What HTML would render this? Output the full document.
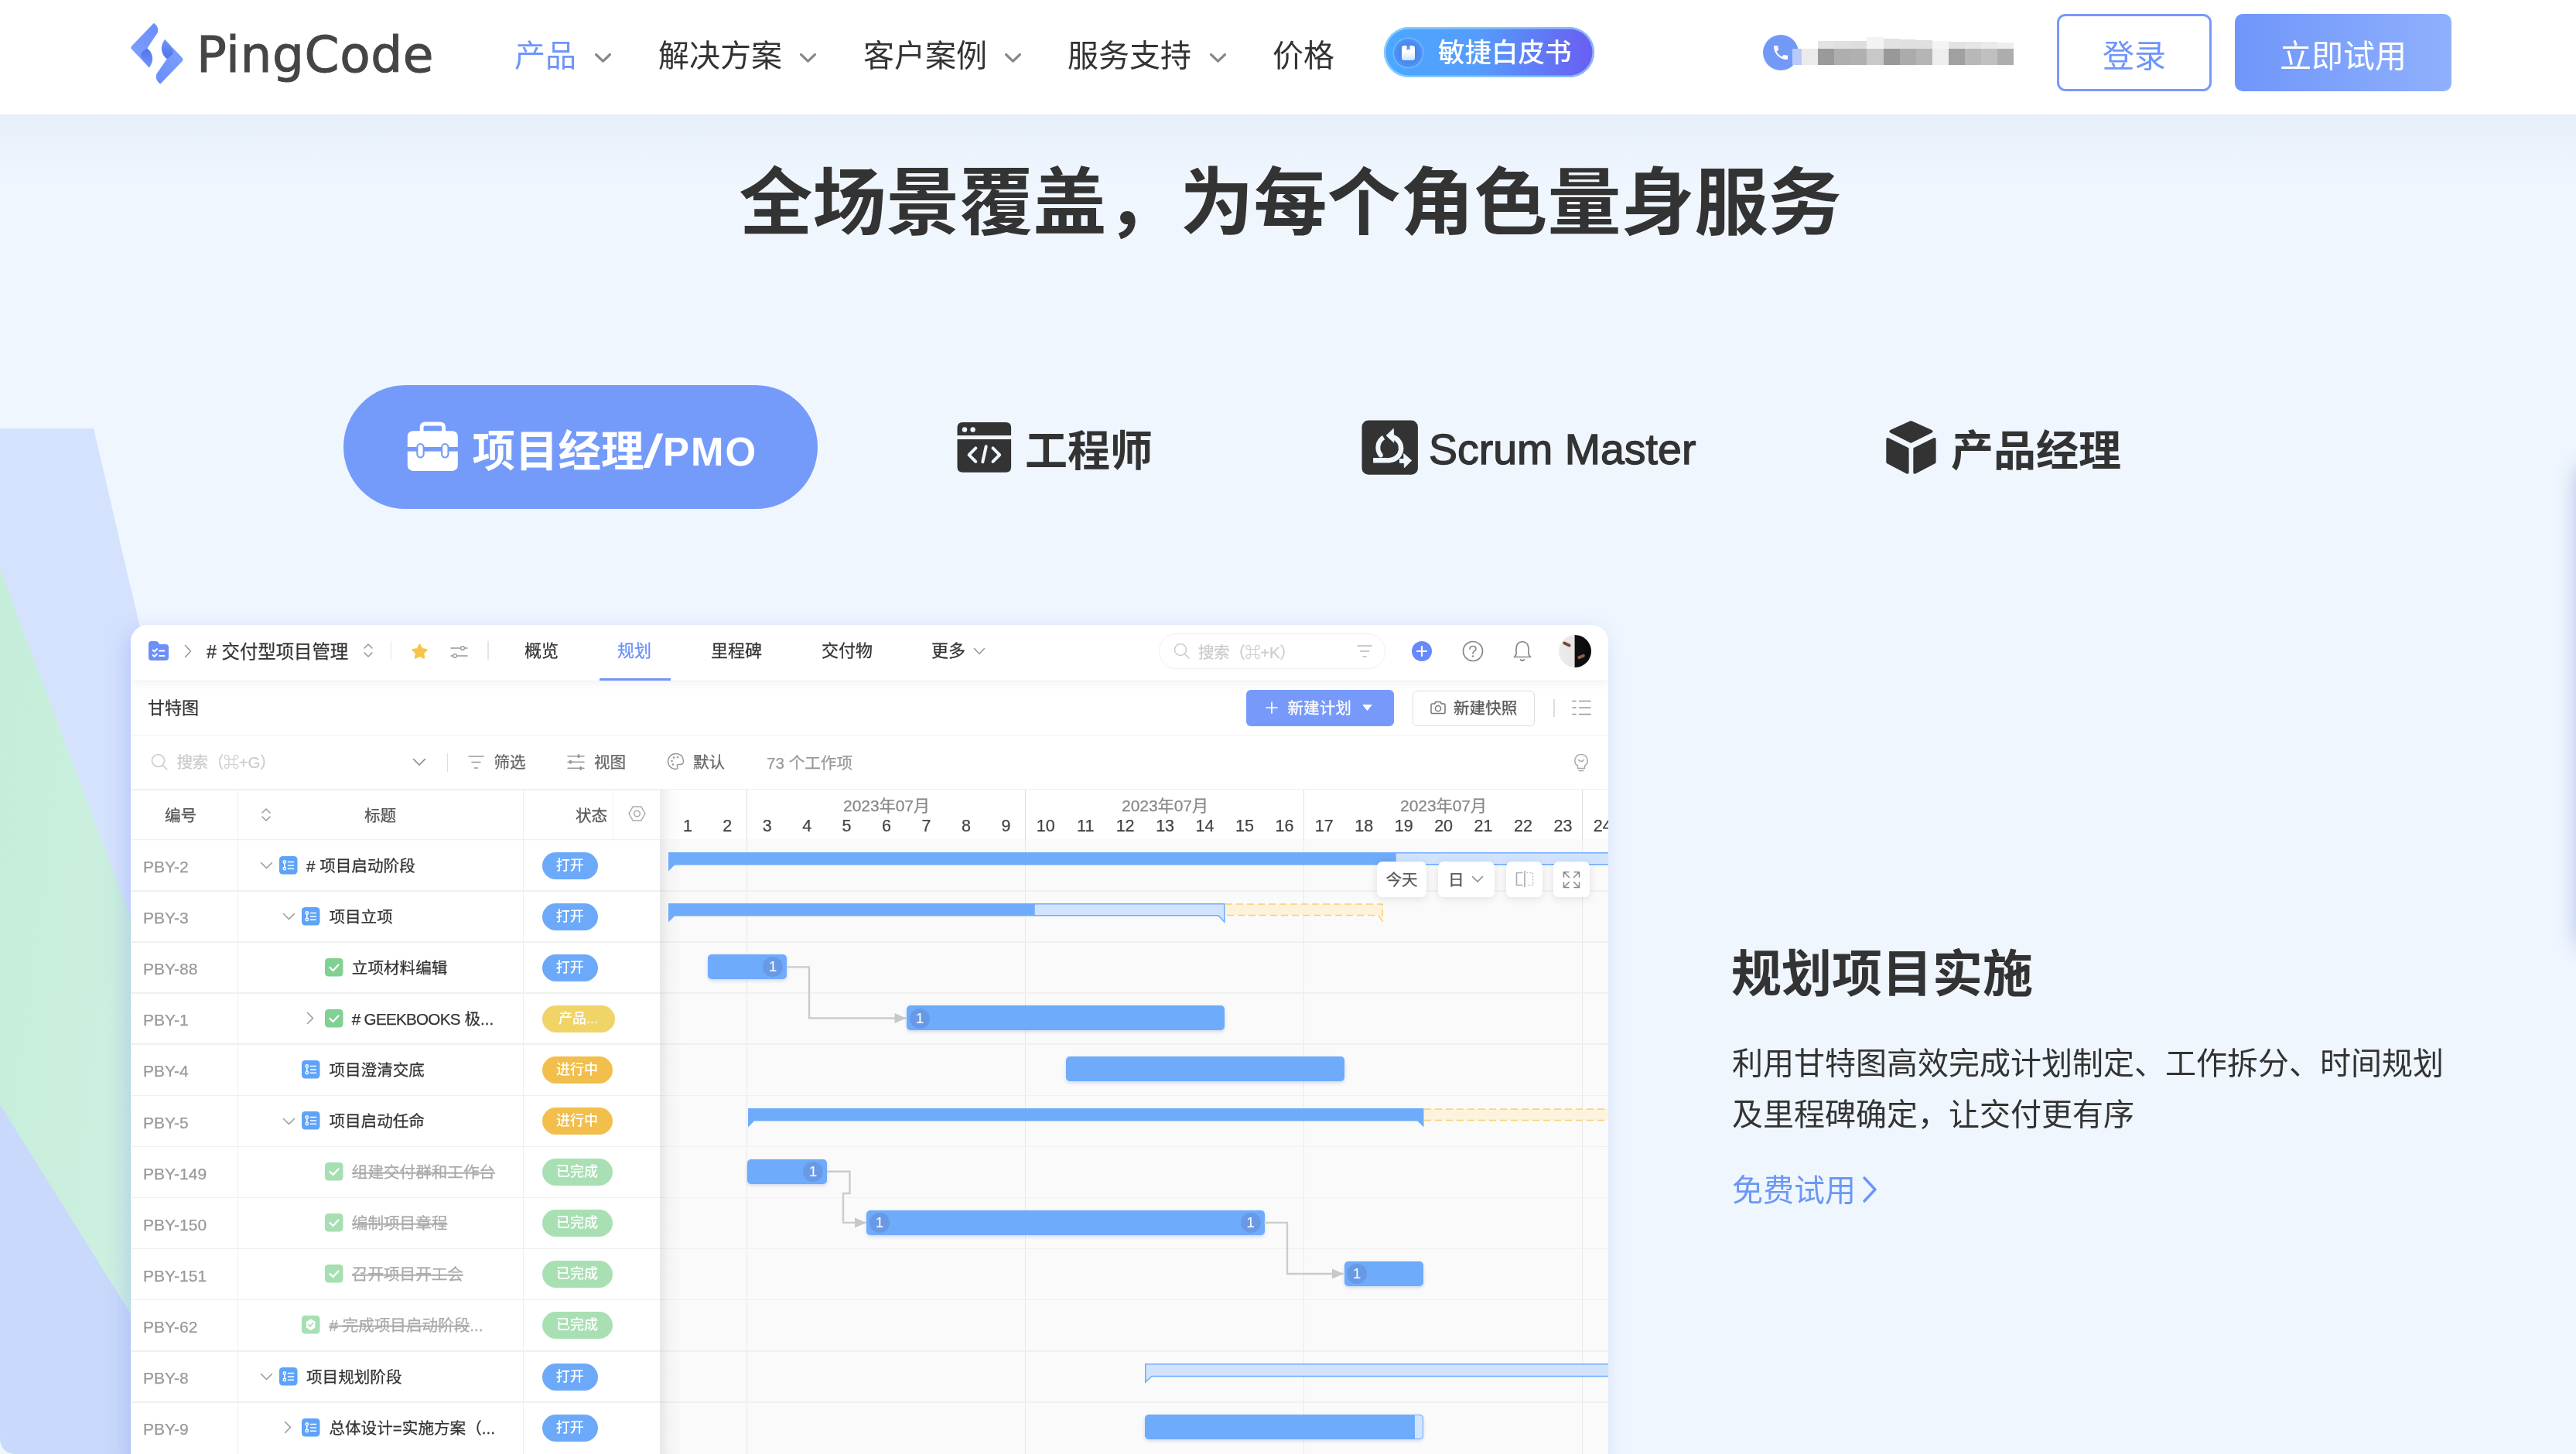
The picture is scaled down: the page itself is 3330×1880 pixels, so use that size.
<!DOCTYPE html><html lang="zh-CN"><head><meta charset="utf-8"><title>PingCode</title><style>
*{box-sizing:border-box;margin:0;padding:0}
html,body{width:3330px;height:1880px;overflow:hidden}
body{position:relative;background:#eff6fe;font-family:"Liberation Sans","Noto Sans CJK SC",sans-serif;color:#333;-webkit-font-smoothing:antialiased}
.a{position:absolute;white-space:nowrap}
.t{position:absolute;white-space:nowrap;transform:translateY(-50%);line-height:1}
.c{transform:translate(-50%,-50%)}
svg{position:absolute;overflow:visible}
#nav{position:absolute;left:0;top:0;width:3330px;height:148px;background:#fff}
#navsh{position:absolute;left:0;top:148px;width:3330px;height:90px;background:linear-gradient(#e7eff9,#eff6fe)}
.nv{font-size:40px;color:#333}
#card{position:absolute;left:169px;top:808px;width:1910px;height:1100px;background:#fff;border-radius:22px;box-shadow:-6px 8px 28px rgba(95,125,235,.26);overflow:hidden;will-change:transform}
.ct{font-size:20.6px;color:#333;-webkit-text-stroke:0.25px}
.pill{position:absolute;height:35px;border-radius:17.5px;color:#fff;font-size:18px;font-weight:500;line-height:35px;text-align:center}
.hl{position:absolute;height:1.5px;background:#f0f0f0;left:0}
.vl{position:absolute;width:1.5px;background:#efefef}
.bar{position:absolute;height:32px;border-radius:5px;background:#6eabfb;box-shadow:0 2px 4px rgba(80,120,200,.25)}
.num{position:absolute;width:26px;height:26px;border-radius:13px;background:#6799e6;color:#fff;font-size:19px;line-height:26px;text-align:center}
.fb{position:absolute;height:46px;background:#fff;border-radius:7px;box-shadow:0 2px 12px rgba(0,0,0,.11)}
</style></head><body>
<!--BG-->
<svg style="left:0;top:0" width="3330" height="1880" viewBox="0 0 3330 1880"><defs><linearGradient id="gg" x1="0" y1="0" x2="1" y2="0.4"><stop offset="0" stop-color="#c5edd9"/><stop offset="1" stop-color="#d4f2e6"/></linearGradient></defs><path d="M0 554H121L430 1880H22Q0 1880 0 1858Z" fill="#d5e2fd"/><path d="M0 735L430 1885L430 2120L0 1428Z" fill="url(#gg)"/><path d="M0 1428L282 1880H22Q0 1880 0 1858Z" fill="#c9d9fb"/></svg>
<div class="a" style="left:3332px;top:600px;width:60px;height:625px;border-radius:20px;box-shadow:0 0 28px rgba(90,110,200,.45)"></div>
<!--/BG-->
<!--NAV-->
<div style="position:absolute;left:0;top:0;width:3330px;height:1880px;will-change:transform">
<div id="navsh"></div><div id="nav"></div>
<svg style="left:169px;top:29px" width="68" height="80" viewBox="0 0 68 80"><defs><linearGradient id="lg1" x1="0.8" y1="0" x2="0.2" y2="1"><stop offset="0" stop-color="#6a8ffb"/><stop offset="1" stop-color="#7ea0fd"/></linearGradient><linearGradient id="lg2" x1="0.5" y1="0" x2="0.5" y2="1"><stop offset="0" stop-color="#4e73ec"/><stop offset="1" stop-color="#7195fb"/></linearGradient></defs><g><path d="M29.9 0.7Q36.8 6 34.8 13.3L21.2 33.4Q30.8 46 23.8 58.4L1.2 34.5Q-0.6 32.5 1.2 30.5Z" fill="url(#lg1)"/><path d="M21.2 33.4C16 37 10.5 40.5 14.2 45.8L23.8 58.4C30.8 50 29 39 21.2 33.4Z" fill="url(#lg2)"/></g><g transform="rotate(180 34 40.2)"><path d="M29.9 0.7Q36.8 6 34.8 13.3L21.2 33.4Q30.8 46 23.8 58.4L1.2 34.5Q-0.6 32.5 1.2 30.5Z" fill="url(#lg1)"/><path d="M21.2 33.4C16 37 10.5 40.5 14.2 45.8L23.8 58.4C30.8 50 29 39 21.2 33.4Z" fill="url(#lg2)"/></g></svg>
<div class="t" style="left:254px;top:70.5px;font-family:'DejaVu Sans','Liberation Sans',sans-serif;font-size:64.5px;color:#454545;letter-spacing:0.6px;-webkit-text-stroke:1px #454545">PingCode</div>
<div class="t nv" style="left:665px;top:72px;color:#6e96fb">产品</div>
<svg style="left:769px;top:69px" width="21" height="11.55" viewBox="0 0 21 11.55"><path d="M1.5 1.5L10.5 10.05L19.5 1.5" fill="none" stroke="#888" stroke-width="3.2" stroke-linecap="round" stroke-linejoin="round"/></svg>
<div class="t nv" style="left:851px;top:72px;color:#333">解决方案</div>
<svg style="left:1034px;top:69px" width="21" height="11.55" viewBox="0 0 21 11.55"><path d="M1.5 1.5L10.5 10.05L19.5 1.5" fill="none" stroke="#888" stroke-width="3.2" stroke-linecap="round" stroke-linejoin="round"/></svg>
<div class="t nv" style="left:1116px;top:72px;color:#333">客户案例</div>
<svg style="left:1299px;top:69px" width="21" height="11.55" viewBox="0 0 21 11.55"><path d="M1.5 1.5L10.5 10.05L19.5 1.5" fill="none" stroke="#888" stroke-width="3.2" stroke-linecap="round" stroke-linejoin="round"/></svg>
<div class="t nv" style="left:1380px;top:72px;color:#333">服务支持</div>
<svg style="left:1564px;top:69px" width="21" height="11.55" viewBox="0 0 21 11.55"><path d="M1.5 1.5L10.5 10.05L19.5 1.5" fill="none" stroke="#888" stroke-width="3.2" stroke-linecap="round" stroke-linejoin="round"/></svg>
<div class="t nv" style="left:1645px;top:72px;color:#333">价格</div>
<div class="a" style="left:1788.5px;top:35px;width:272px;height:65px;border-radius:33px;background:linear-gradient(90deg,#4aa8ff 0%,#559cfb 45%,#6a5df1 100%);box-shadow:inset 0 0 0 2.5px rgba(150,215,255,.75)"></div>
<div class="a" style="left:1802px;top:50px;width:37px;height:37px;border-radius:50%;background:radial-gradient(circle,#3b7ae4 0%,#4a8df2 55%,#5ea6fc 100%);box-shadow:0 0 0 1.5px rgba(255,255,255,.22)"></div>
<svg style="left:1812px;top:58px" width="17" height="21" viewBox="0 0 17 21"><defs><linearGradient id="bk" x1="0" y1="0" x2="0" y2="1"><stop offset="0.4" stop-color="#fff"/><stop offset="1" stop-color="#cfe3ff"/></linearGradient></defs><rect x="0" y="1" width="17" height="19" rx="3" fill="url(#bk)"/><path d="M6.5 1h4v6l-2-1.6L6.5 7z" fill="#5b95f3"/></svg>
<div class="t" style="left:1859px;top:68px;font-size:34.5px;color:#fff;font-weight:500">敏捷白皮书</div>
<div class="a" style="left:2279px;top:45px;width:46px;height:46px;border-radius:50%;background:#7399f8"></div>
<svg style="left:2290px;top:56px" width="24" height="24" viewBox="0 0 24 24"><path d="M6.6 10.8c1.4 2.8 3.8 5.1 6.6 6.6l2.2-2.2c.3-.3.7-.4 1-.2 1.1.4 2.3.6 3.6.6.6 0 1 .4 1 1V20c0 .6-.4 1-1 1C10.6 21 3 13.4 3 4c0-.6.4-1 1-1h3.5c.6 0 1 .4 1 1 0 1.3.2 2.5.6 3.6.1.3 0 .7-.2 1z" fill="#fff"/></svg>
<div class="a" style="left:2317px;top:63px;width:12px;height:21px;background:#b9c9fb"></div>
<div class="a" style="left:2329px;top:63px;width:21.3px;height:21.3px;background:#ebebeb"></div>
<div class="a" style="left:2350.1px;top:63px;width:21.3px;height:21.3px;background:#9a9a9a"></div>
<div class="a" style="left:2350.1px;top:53px;width:21.3px;height:10px;background:#e3e3e3"></div>
<div class="a" style="left:2371.2px;top:63px;width:21.3px;height:21.3px;background:#aeaeae"></div>
<div class="a" style="left:2371.2px;top:53px;width:21.3px;height:10px;background:#e0e0e0"></div>
<div class="a" style="left:2392.3px;top:63px;width:21.3px;height:21.3px;background:#b0b0b0"></div>
<div class="a" style="left:2392.3px;top:53px;width:21.3px;height:10px;background:#dedede"></div>
<div class="a" style="left:2413.4px;top:63px;width:21.3px;height:21.3px;background:#c8c8c8"></div>
<div class="a" style="left:2413.4px;top:48px;width:21.3px;height:15px;background:#f3f3f3"></div>
<div class="a" style="left:2434.5px;top:63px;width:21.3px;height:21.3px;background:#989898"></div>
<div class="a" style="left:2434.5px;top:50px;width:21.3px;height:13px;background:#e2e2e2"></div>
<div class="a" style="left:2455.6px;top:63px;width:21.3px;height:21.3px;background:#ababab"></div>
<div class="a" style="left:2455.6px;top:51px;width:21.3px;height:12px;background:#e0e0e0"></div>
<div class="a" style="left:2476.7px;top:63px;width:21.3px;height:21.3px;background:#b5b5b5"></div>
<div class="a" style="left:2476.7px;top:52px;width:21.3px;height:11px;background:#e0e0e0"></div>
<div class="a" style="left:2497.8px;top:63px;width:21.3px;height:21.3px;background:#eeeeee"></div>
<div class="a" style="left:2497.8px;top:53px;width:21.3px;height:10px;background:#f4f4f4"></div>
<div class="a" style="left:2518.9px;top:63px;width:21.3px;height:21.3px;background:#a0a0a0"></div>
<div class="a" style="left:2518.9px;top:54px;width:21.3px;height:9px;background:#e2e2e2"></div>
<div class="a" style="left:2540px;top:63px;width:21.3px;height:21.3px;background:#b8b8b8"></div>
<div class="a" style="left:2540px;top:54px;width:21.3px;height:9px;background:#e6e6e6"></div>
<div class="a" style="left:2561.1px;top:63px;width:21.3px;height:21.3px;background:#c0c0c0"></div>
<div class="a" style="left:2561.1px;top:54px;width:21.3px;height:9px;background:#eaeaea"></div>
<div class="a" style="left:2582.2px;top:63px;width:21.3px;height:21.3px;background:#adadad"></div>
<div class="a" style="left:2582.2px;top:55px;width:21.3px;height:8px;background:#eeeeee"></div>
<div class="a" style="left:2659px;top:18px;width:200px;height:100px;border:3px solid #7699fa;border-radius:11px;background:#fff"></div>
<div class="t c nv" style="left:2759px;top:73px;font-size:41px;color:#6e95fb">登录</div>
<div class="a" style="left:2889px;top:18px;width:280px;height:100px;border-radius:10px;background:linear-gradient(90deg,#6f96fa,#8fb0fd)"></div>
<div class="t c nv" style="left:3029px;top:73px;font-size:41px;color:#fff">立即试用</div>
<!--/NAV-->
<!--HEAD-->
<div class="t c" style="left:1668px;top:263px;font-size:95px;font-weight:700;color:#333">全场景覆盖，为每个角色量身服务</div>
<!--/HEAD-->
<!--TABS-->
<div class="a" style="left:444px;top:498px;width:613px;height:160px;border-radius:80px;background:#749bfa"></div>
<div class="t" style="left:610.5px;top:583px;font-size:55.5px;font-weight:700;color:#fff">项目经理<span style="display:inline-block;font-weight:400;font-size:59px;transform:scaleX(1.5);margin:0 5px 0 3px;-webkit-text-stroke:0.8px #fff;position:relative;top:1px">/</span><span style="font-weight:700;font-size:51px;letter-spacing:2px;position:relative;top:-1.5px">PMO</span></div>
<div class="t" style="left:1325px;top:583px;font-size:55px;font-weight:700;color:#333">工程师</div>
<div class="t" style="left:1847px;top:582px;font-size:55.5px;color:#333;-webkit-text-stroke:1.3px #333">Scrum Master</div>
<div class="t" style="left:2522px;top:583px;font-size:55px;font-weight:700;color:#333">产品经理</div>
<svg style="left:520px;top:540px" width="80" height="75" viewBox="520 540 80 75"><path d="M545.1 559V553Q545.1 548 550.1 548H568.6Q573.6 548 573.6 553V559" fill="none" stroke="#fff" stroke-width="4.8"/><rect x="526.8" y="557.3" width="65" height="51.6" rx="7" fill="#fff"/><rect x="526" y="578" width="67" height="5.6" fill="#749bfa"/><rect x="538.3" y="573" width="10.4" height="19.5" rx="5.2" fill="#749bfa"/><rect x="570.1" y="573" width="10.4" height="19.5" rx="5.2" fill="#749bfa"/><rect x="540.4" y="575" width="6.2" height="15.4" rx="3.1" fill="#fff"/><rect x="572.2" y="575" width="6.2" height="15.4" rx="3.1" fill="#fff"/></svg>
<svg style="left:1230px;top:540px" width="85" height="78" viewBox="1230 540 85 78"><path d="M1237.5 563V552.9Q1237.5 545.9 1244.5 545.9H1300.1Q1307.1 545.9 1307.1 552.9V563Z" fill="#333"/><path d="M1237.5 568H1307.1V603.8Q1307.1 610.8 1300.1 610.8H1244.5Q1237.5 610.8 1237.5 603.8Z" fill="#333"/><circle cx="1247" cy="555.5" r="3.2" fill="#eff6fe"/><circle cx="1257.6" cy="555.5" r="3.2" fill="#eff6fe"/><path d="M1261.3 579.4L1252.6 588.1L1261.3 596.9M1274.7 577.3L1270.3 597.2M1283.5 579.4L1292.2 588.1L1283.5 596.9" fill="none" stroke="#eff6fe" stroke-width="4" stroke-linecap="round" stroke-linejoin="round"/></svg>
<svg style="left:1755px;top:538px" width="85" height="80" viewBox="1755 538 85 80"><rect x="1760.5" y="543.4" width="72.4" height="70.4" rx="8.5" fill="#333"/><path d="M1775.1 595.2H1795.5A15.6 15.6 0 0 0 1800.8 564.9" fill="none" stroke="#eff6fe" stroke-width="6.4"/><path d="M1792 563.2L1801.4 554.2L1801.8 572.2Z" fill="#eff6fe" stroke="#eff6fe" stroke-width="0.8" stroke-linejoin="round"/><path d="M1788.6 565.6A15.4 15.4 0 0 0 1784.6 588.2" fill="none" stroke="#eff6fe" stroke-width="6"/><circle cx="1784.9" cy="588.5" r="2.9" fill="#eff6fe"/><path d="M1809 596H1816" fill="none" stroke="#eff6fe" stroke-width="5.8"/><path d="M1814.6 586.6L1824.8 595.4L1815.4 604.8Z" fill="#eff6fe" stroke="#eff6fe" stroke-width="0.8" stroke-linejoin="round"/></svg>
<svg style="left:2430px;top:538px" width="80" height="80" viewBox="2430 538 80 80"><g fill="#333" stroke="#333" stroke-width="4" stroke-linejoin="round"><path d="M2444.4 557.8L2470.3 546.2L2496.5 557.8L2470.3 570.7Z"/><path d="M2440.3 568L2465.6 580.5V610.8L2440.3 597.5Z"/><path d="M2500.6 568L2475.3 580.5V610.8L2500.6 597.5Z"/></g></svg>
<!--/TABS-->
<!--RIGHT-->
<div class="t" style="left:2238px;top:1259px;font-size:65px;font-weight:700;color:#333">规划项目实施</div>
<div class="t" style="left:2239px;top:1375px;font-size:40px;color:#333">利用甘特图高效完成计划制定、工作拆分、时间规划</div>
<div class="t" style="left:2239px;top:1441px;font-size:40px;color:#333">及里程碑确定，让交付更有序</div>
<div class="t" style="left:2239px;top:1539px;font-size:40px;color:#6b98f6">免费试用</div>
<svg style="left:2407px;top:1520px" width="20" height="36" viewBox="0 0 20 36"><path d="M3 3L17 18L3 33" fill="none" stroke="#6b98f6" stroke-width="3.5" stroke-linecap="round" stroke-linejoin="round"/></svg>
</div>
<!--/RIGHT-->
<!--CARD-->
<div id="card">
<div class="a" style="left:684px;top:277px;width:1240px;height:820px;background:#fafafa"></div>
<!--card header-->
<div class="a" style="left:0;top:0;width:1910px;height:72px;background:#fff;box-shadow:0 1px 0 #eee,0 4px 12px rgba(0,0,0,.05)"></div>
<svg style="left:23px;top:20.5px" width="26" height="25" viewBox="0 0 26 25"><path d="M0 4Q0 0 4 0H9.5Q11.5 0 12.5 1.5L14 4H22Q26 4 26 8V21Q26 25 22 25H4Q0 25 0 21Z" fill="#6c8ff8"/><path d="M5.5 11.5l2 2 3.5-3.5M5.5 18l2 2 3.5-3.5M14 12.5h6.5M14 19h6.5" fill="none" stroke="#fff" stroke-width="1.8" stroke-linecap="round" stroke-linejoin="round"/></svg>
<svg style="left:69px;top:25px" width="10" height="18" viewBox="0 0 10 18"><path d="M1.5 1.5L8.5 9L1.5 16.5" fill="none" stroke="#999" stroke-width="1.6" stroke-linecap="round" stroke-linejoin="round"/></svg>
<div class="t ct" style="left:98px;top:35.5px;font-size:23.4px"># 交付型项目管理</div>
<svg style="left:300px;top:22px" width="14" height="22" viewBox="0 0 14 22"><path d="M2 8L7 3L12 8M2 14L7 19L12 14" fill="none" stroke="#999" stroke-width="1.6" stroke-linecap="round" stroke-linejoin="round"/></svg>
<div class="a" style="left:335.5px;top:21px;width:1.5px;height:24px;background:#e5e5e5"></div>
<svg style="left:362.5px;top:24px" width="21" height="20" viewBox="0 0 21 20"><path d="M10.5 1.8L13.3 7.3L19.4 8.2L15 12.5L16 18.5L10.5 15.7L5 18.5L6 12.5L1.6 8.2L7.7 7.3Z" fill="#f6c64a" stroke="#f6c64a" stroke-width="2.4" stroke-linejoin="round"/></svg>
<svg style="left:412.5px;top:24px" width="23" height="22" viewBox="0 0 23 22"><path d="M1 6H22M1 16H22" stroke="#999" stroke-width="1.5" stroke-linecap="round"/><circle cx="16" cy="6" r="2.4" fill="#fff" stroke="#999" stroke-width="1.4"/><circle cx="6" cy="16" r="2.4" fill="#fff" stroke="#999" stroke-width="1.4"/></svg>
<div class="a" style="left:461px;top:21px;width:1.5px;height:24px;background:#e5e5e5"></div>
<div class="t ct" style="left:509px;top:34px;font-size:22px;color:#333">概览</div>
<div class="t ct" style="left:629px;top:34px;font-size:22px;color:#6c8ff8">规划</div>
<div class="t ct" style="left:750px;top:34px;font-size:22px;color:#333">里程碑</div>
<div class="t ct" style="left:893px;top:34px;font-size:22px;color:#333">交付物</div>
<div class="t ct" style="left:1035px;top:34px;font-size:22px;color:#333">更多</div>
<div class="a" style="left:605.5px;top:69.3px;width:92px;height:2.8px;background:#7395fa"></div>
<svg style="left:1089px;top:29px" width="16" height="10" viewBox="0 0 16 10"><path d="M1.5 1.5L8 8.5L14.5 1.5" fill="none" stroke="#999" stroke-width="1.6" stroke-linecap="round" stroke-linejoin="round"/></svg>
<div class="a" style="left:1329px;top:11px;width:293px;height:46px;border-radius:23px;border:1.5px solid #eee;background:#fff"></div>
<svg style="left:1348px;top:23px" width="21" height="21" viewBox="0 0 21 21"><circle cx="9" cy="9" r="7.5" fill="none" stroke="#ccc" stroke-width="1.6"/><path d="M14.5 14.5L20 20" stroke="#ccc" stroke-width="1.6" stroke-linecap="round"/></svg>
<div class="t ct" style="left:1380px;top:35.5px;color:#ccc;font-size:20.6px;letter-spacing:-0.5px">搜索（⌘+K）</div>
<svg style="left:1585px;top:25px" width="20" height="18" viewBox="0 0 20 18"><path d="M1 2H19M4.5 9H15.5M8 16H12" stroke="#bbb" stroke-width="1.6" stroke-linecap="round"/></svg>
<div class="a" style="left:1656.4px;top:20.6px;width:26px;height:26px;border-radius:50%;background:#6889f9"></div>
<svg style="left:1662.4px;top:26.6px" width="14" height="14" viewBox="0 0 14 14"><path d="M7 1V13M1 7H13" stroke="#fff" stroke-width="2.2" stroke-linecap="round"/></svg>
<svg style="left:1721px;top:20px" width="28" height="28" viewBox="0 0 28 28"><circle cx="14" cy="14" r="12.5" fill="none" stroke="#888" stroke-width="1.7"/><path d="M10 11.2Q10 7.5 14 7.5Q18 7.5 18 11Q18 13 15.5 14.2Q14 15 14 17" fill="none" stroke="#888" stroke-width="1.7" stroke-linecap="round"/><circle cx="14" cy="20.5" r="1.2" fill="#888"/></svg>
<svg style="left:1786px;top:19px" width="26" height="30" viewBox="0 0 26 30"><path d="M13 2.5Q21 3.5 21 12V19L23.5 22.5H2.5L5 19V12Q5 3.5 13 2.5Z" fill="none" stroke="#888" stroke-width="1.7" stroke-linejoin="round"/><path d="M10.5 26Q13 28 15.5 26" fill="none" stroke="#888" stroke-width="1.7" stroke-linecap="round"/></svg>
<div class="a" style="left:1846px;top:13px;width:42px;height:42px;border-radius:50%;background:linear-gradient(90deg,#ececec 0,#e9e7e5 48%,#111 50%,#0a0a0a 100%);overflow:hidden"><div class="a" style="left:5px;top:10px;width:11px;height:3.5px;background:#7a4a38;border-radius:2px;transform:rotate(25deg)"></div><div class="a" style="left:24px;top:26px;width:10px;height:3.5px;background:#8a5f4e;border-radius:2px;transform:rotate(-22deg)"></div></div>
<!--row2-->
<div class="t ct" style="left:22px;top:108px;font-size:22px">甘特图</div>
<div class="a" style="left:1441.5px;top:84px;width:191px;height:46.5px;border-radius:6px;background:#779afa"></div>
<svg style="left:1467px;top:99px" width="16" height="16" viewBox="0 0 16 16"><path d="M8 1V15M1 8H15" stroke="#fff" stroke-width="1.7" stroke-linecap="round"/></svg>
<div class="t ct" style="left:1495.5px;top:108px;color:#fff">新建计划</div>
<svg style="left:1592px;top:103px" width="13" height="8" viewBox="0 0 13 8"><path d="M1 0.5H12L6.5 7.5Z" fill="#fff" stroke="#fff" stroke-width="1" stroke-linejoin="round"/></svg>
<div class="a" style="left:1657px;top:85px;width:158px;height:45.5px;border-radius:6px;border:1.5px solid #ddd;background:#fff"></div>
<svg style="left:1679.5px;top:98px" width="20" height="18" viewBox="0 0 20 18"><path d="M1 5.5Q1 4 2.5 4H5.5L7 1.5H13L14.5 4H17.5Q19 4 19 5.5V15Q19 16.5 17.5 16.5H2.5Q1 16.5 1 15Z" fill="none" stroke="#777" stroke-width="1.5" stroke-linejoin="round"/><circle cx="10" cy="10" r="3.6" fill="none" stroke="#777" stroke-width="1.5"/></svg>
<div class="t ct" style="left:1710px;top:108px;color:#555">新建快照</div>
<div class="a" style="left:1839px;top:95.5px;width:1.5px;height:23px;background:#ddd"></div>
<svg style="left:1863px;top:96px" width="25" height="22" viewBox="0 0 25 22"><path d="M1 2.5H5M9.5 2.5H24M1 11H5M9.5 11H24M1 19.5H5M9.5 19.5H24" stroke="#999" stroke-width="1.6" stroke-linecap="round"/></svg>
<div class="hl" style="top:141.5px;width:1910px"></div>
<!--row3-->
<svg style="left:26px;top:165.8px" width="22" height="22" viewBox="0 0 22 22"><circle cx="9.5" cy="9.5" r="8" fill="none" stroke="#ccc" stroke-width="1.6"/><path d="M15.5 15.5L21 21" stroke="#ccc" stroke-width="1.6" stroke-linecap="round"/></svg>
<div class="t ct" style="left:59.5px;top:178.3px;color:#ccc;letter-spacing:-0.5px">搜索（⌘+G）</div>
<svg style="left:363.5px;top:171.8px" width="18" height="11" viewBox="0 0 18 11"><path d="M1.5 1.5L9 9L16.5 1.5" fill="none" stroke="#888" stroke-width="1.6" stroke-linecap="round" stroke-linejoin="round"/></svg>
<div class="a" style="left:408.5px;top:166px;width:1.5px;height:24px;background:#ddd"></div>
<svg style="left:435.5px;top:167.8px" width="21" height="19" viewBox="0 0 21 19"><path d="M1 2H20M5 9.5H16M8.5 17H12.5" stroke="#999" stroke-width="1.6" stroke-linecap="round"/></svg>
<div class="t ct" style="left:469.5px;top:177.8px;color:#666">筛选</div>
<svg style="left:564px;top:166px" width="23" height="24" viewBox="0 0 23 24"><path d="M1 3.7H22M1 11.2H22M1 19.3H22" stroke="#999" stroke-width="1.5" stroke-linecap="round"/><ellipse cx="15" cy="3.7" rx="1.7" ry="2.6" fill="#999"/><ellipse cx="4.5" cy="11.2" rx="1.7" ry="2.6" fill="#999"/><ellipse cx="17.7" cy="19.3" rx="1.7" ry="2.6" fill="#999"/></svg>
<div class="t ct" style="left:599px;top:177.8px;color:#666">视图</div>
<svg style="left:693px;top:165.3px" width="23" height="23" viewBox="0 0 23 23"><path d="M11.5 1.5A10 10 0 1 0 11.5 21.5Q14 21.5 14 19.5Q14 18.5 13.3 17.8Q12.8 17 13.5 16Q14 15.5 15 15.5H17.5Q21.5 15.5 21.5 11Q21 1.5 11.5 1.5Z" fill="none" stroke="#999" stroke-width="1.5"/><circle cx="6.5" cy="11" r="1.3" fill="#999"/><circle cx="9" cy="6.5" r="1.3" fill="#999"/><circle cx="14" cy="6" r="1.3" fill="#999"/><circle cx="8" cy="15.5" r="1.3" fill="#999"/></svg>
<div class="t ct" style="left:727px;top:177.8px;color:#666">默认</div>
<div class="t ct" style="left:822px;top:178.8px;color:#999">73 个工作项</div>
<svg style="left:1864.5px;top:166px" width="20" height="25" viewBox="0 0 20 25"><path d="M10 1.5A8 8 0 0 0 5.5 16.2V19.5H14.5V16.2A8 8 0 0 0 10 1.5Z" fill="none" stroke="#aaa" stroke-width="1.5" stroke-linejoin="round"/><path d="M6.5 8.5Q10 12.5 13.5 8.5M7 22.5H13" fill="none" stroke="#aaa" stroke-width="1.5" stroke-linecap="round"/></svg>
<div class="hl" style="top:212px;width:1910px"></div>
<!--thead-->
<div class="a" style="left:684px;top:213px;width:1240px;height:64px;background:#fff"></div>
<div class="t ct" style="left:44px;top:247px;color:#555">编号</div>
<svg style="left:167.5px;top:235px" width="14" height="21" viewBox="0 0 14 21"><path d="M2 8L7 3L12 8M2 13L7 18L12 13" fill="none" stroke="#999" stroke-width="1.5" stroke-linecap="round" stroke-linejoin="round"/></svg>
<div class="t ct" style="left:302px;top:247px;color:#555">标题</div>
<div class="t ct" style="left:575px;top:247px;color:#555">状态</div>
<svg style="left:642.5px;top:232px" width="23" height="24" viewBox="0 0 23 24"><path d="M1 12L6.25 2.9H16.75L22 12L16.75 21.1H6.25Z" fill="none" stroke="#aaa" stroke-width="1.5" stroke-linejoin="round"/><circle cx="11.5" cy="12" r="3.8" fill="none" stroke="#aaa" stroke-width="1.5"/></svg>
<div class="vl" style="left:622.5px;top:213px;height:64px"></div>
<div class="vl" style="left:795.8px;top:277px;height:830px;background:#e8e8e8"></div>
<div class="vl" style="left:795.8px;top:213px;height:64px;background:#dedede"></div>
<div class="vl" style="left:1155.8px;top:277px;height:830px;background:#e8e8e8"></div>
<div class="vl" style="left:1155.8px;top:213px;height:64px;background:#dedede"></div>
<div class="vl" style="left:1515.8px;top:277px;height:830px;background:#e8e8e8"></div>
<div class="vl" style="left:1515.8px;top:213px;height:64px;background:#dedede"></div>
<div class="vl" style="left:1875.8px;top:277px;height:830px;background:#e8e8e8"></div>
<div class="vl" style="left:1875.8px;top:213px;height:64px;background:#dedede"></div>
<div class="t c ct" style="left:977px;top:233px;color:#888;font-size:21px">2023年07月</div>
<div class="t c ct" style="left:1337px;top:233px;color:#888;font-size:21px">2023年07月</div>
<div class="t c ct" style="left:1697px;top:233px;color:#888;font-size:21px">2023年07月</div>
<div class="t c ct" style="left:719.9px;top:260.5px;color:#444;font-size:21.5px">1</div>
<div class="t c ct" style="left:771.3px;top:260.5px;color:#444;font-size:21.5px">2</div>
<div class="t c ct" style="left:822.8px;top:260.5px;color:#444;font-size:21.5px">3</div>
<div class="t c ct" style="left:874.2px;top:260.5px;color:#444;font-size:21.5px">4</div>
<div class="t c ct" style="left:925.6px;top:260.5px;color:#444;font-size:21.5px">5</div>
<div class="t c ct" style="left:977.1px;top:260.5px;color:#444;font-size:21.5px">6</div>
<div class="t c ct" style="left:1028.5px;top:260.5px;color:#444;font-size:21.5px">7</div>
<div class="t c ct" style="left:1079.9px;top:260.5px;color:#444;font-size:21.5px">8</div>
<div class="t c ct" style="left:1131.4px;top:260.5px;color:#444;font-size:21.5px">9</div>
<div class="t c ct" style="left:1182.8px;top:260.5px;color:#444;font-size:21.5px">10</div>
<div class="t c ct" style="left:1234.2px;top:260.5px;color:#444;font-size:21.5px">11</div>
<div class="t c ct" style="left:1285.6px;top:260.5px;color:#444;font-size:21.5px">12</div>
<div class="t c ct" style="left:1337.1px;top:260.5px;color:#444;font-size:21.5px">13</div>
<div class="t c ct" style="left:1388.5px;top:260.5px;color:#444;font-size:21.5px">14</div>
<div class="t c ct" style="left:1439.9px;top:260.5px;color:#444;font-size:21.5px">15</div>
<div class="t c ct" style="left:1491.4px;top:260.5px;color:#444;font-size:21.5px">16</div>
<div class="t c ct" style="left:1542.8px;top:260.5px;color:#444;font-size:21.5px">17</div>
<div class="t c ct" style="left:1594.2px;top:260.5px;color:#444;font-size:21.5px">18</div>
<div class="t c ct" style="left:1645.7px;top:260.5px;color:#444;font-size:21.5px">19</div>
<div class="t c ct" style="left:1697.1px;top:260.5px;color:#444;font-size:21.5px">20</div>
<div class="t c ct" style="left:1748.5px;top:260.5px;color:#444;font-size:21.5px">21</div>
<div class="t c ct" style="left:1799.9px;top:260.5px;color:#444;font-size:21.5px">22</div>
<div class="t c ct" style="left:1851.4px;top:260.5px;color:#444;font-size:21.5px">23</div>
<div class="t c ct" style="left:1902.8px;top:260.5px;color:#444;font-size:21.5px">24</div>
<div class="hl" style="top:276.5px;width:684px;box-shadow:0 2px 6px rgba(0,0,0,.06)"></div>
<!--rows-->
<div class="t ct" style="left:16px;top:312px;color:#999;font-size:21px">PBY-2</div>
<svg style="left:166.5px;top:306px" width="17" height="10" viewBox="0 0 17 10"><path d="M1.5 1.5L8.5 8.5L15.5 1.5" fill="none" stroke="#999" stroke-width="1.5" stroke-linecap="round" stroke-linejoin="round"/></svg>
<svg style="left:192px;top:298.5px" width="23.5" height="23.5" viewBox="0 0 23.5 23.5"><rect width="23.5" height="23.5" rx="4.5" fill="#5fa3f8"/><circle cx="6.8" cy="7.5" r="1.7" fill="none" stroke="#fff" stroke-width="1.4"/><circle cx="6.8" cy="16" r="1.7" fill="none" stroke="#fff" stroke-width="1.4"/><path d="M6.8 9.2V14.3M11.5 7.5H18.5M11.5 12H18.5M11.5 16.3H18.5" stroke="#fff" stroke-width="1.6" stroke-linecap="round"/></svg>
<div class="t ct" style="left:227px;top:311.5px;color:#333"># 项目启动阶段</div>
<div class="pill" style="left:531.5px;top:293.5px;width:72.5px;background:#6ca9f9">打开</div>
<div class="hl" style="top:343.1px;width:1910px"></div>
<div class="t ct" style="left:16px;top:378.1px;color:#999;font-size:21px">PBY-3</div>
<svg style="left:195.9px;top:372.1px" width="17" height="10" viewBox="0 0 17 10"><path d="M1.5 1.5L8.5 8.5L15.5 1.5" fill="none" stroke="#999" stroke-width="1.5" stroke-linecap="round" stroke-linejoin="round"/></svg>
<svg style="left:221.4px;top:364.6px" width="23.5" height="23.5" viewBox="0 0 23.5 23.5"><rect width="23.5" height="23.5" rx="4.5" fill="#5fa3f8"/><circle cx="6.8" cy="7.5" r="1.7" fill="none" stroke="#fff" stroke-width="1.4"/><circle cx="6.8" cy="16" r="1.7" fill="none" stroke="#fff" stroke-width="1.4"/><path d="M6.8 9.2V14.3M11.5 7.5H18.5M11.5 12H18.5M11.5 16.3H18.5" stroke="#fff" stroke-width="1.6" stroke-linecap="round"/></svg>
<div class="t ct" style="left:256.4px;top:377.6px;color:#333">项目立项</div>
<div class="pill" style="left:531.5px;top:359.6px;width:72.5px;background:#6ca9f9">打开</div>
<div class="hl" style="top:409.2px;width:1910px"></div>
<div class="t ct" style="left:16px;top:444.2px;color:#999;font-size:21px">PBY-88</div>
<svg style="left:250.8px;top:430.7px" width="23.5" height="23.5" viewBox="0 0 23.5 23.5"><rect width="23.5" height="23.5" rx="4.5" fill="#80d192"/><path d="M6.5 12L10.5 16L17.5 8.5" fill="none" stroke="#fff" stroke-width="2.3" stroke-linecap="round" stroke-linejoin="round"/></svg>
<div class="t ct" style="left:285.8px;top:443.7px;color:#333">立项材料编辑</div>
<div class="pill" style="left:531.5px;top:425.7px;width:72.5px;background:#6ca9f9">打开</div>
<div class="hl" style="top:475.3px;width:1910px"></div>
<div class="t ct" style="left:16px;top:510.3px;color:#999;font-size:21px">PBY-1</div>
<svg style="left:227.3px;top:499.8px" width="10" height="17" viewBox="0 0 10 17"><path d="M1.5 1.5L8.5 8.5L1.5 15.5" fill="none" stroke="#999" stroke-width="1.5" stroke-linecap="round" stroke-linejoin="round"/></svg>
<svg style="left:250.8px;top:496.8px" width="23.5" height="23.5" viewBox="0 0 23.5 23.5"><rect width="23.5" height="23.5" rx="4.5" fill="#80d192"/><path d="M6.5 12L10.5 16L17.5 8.5" fill="none" stroke="#fff" stroke-width="2.3" stroke-linecap="round" stroke-linejoin="round"/></svg>
<div class="t ct" style="left:285.8px;top:509.8px;color:#333"><span style="letter-spacing:-0.7px"># GEEKBOOKS</span> 极...</div>
<div class="pill" style="left:531.5px;top:491.8px;width:94px;background:#f1d467">产品...</div>
<div class="hl" style="top:541.4px;width:1910px"></div>
<div class="t ct" style="left:16px;top:576.4px;color:#999;font-size:21px">PBY-4</div>
<svg style="left:221.4px;top:562.9px" width="23.5" height="23.5" viewBox="0 0 23.5 23.5"><rect width="23.5" height="23.5" rx="4.5" fill="#5fa3f8"/><circle cx="6.8" cy="7.5" r="1.7" fill="none" stroke="#fff" stroke-width="1.4"/><circle cx="6.8" cy="16" r="1.7" fill="none" stroke="#fff" stroke-width="1.4"/><path d="M6.8 9.2V14.3M11.5 7.5H18.5M11.5 12H18.5M11.5 16.3H18.5" stroke="#fff" stroke-width="1.6" stroke-linecap="round"/></svg>
<div class="t ct" style="left:256.4px;top:575.9px;color:#333">项目澄清交底</div>
<div class="pill" style="left:531.5px;top:557.9px;width:91px;background:#f2be4c">进行中</div>
<div class="hl" style="top:607.5px;width:1910px"></div>
<div class="t ct" style="left:16px;top:642.5px;color:#999;font-size:21px">PBY-5</div>
<svg style="left:195.9px;top:636.5px" width="17" height="10" viewBox="0 0 17 10"><path d="M1.5 1.5L8.5 8.5L15.5 1.5" fill="none" stroke="#999" stroke-width="1.5" stroke-linecap="round" stroke-linejoin="round"/></svg>
<svg style="left:221.4px;top:629px" width="23.5" height="23.5" viewBox="0 0 23.5 23.5"><rect width="23.5" height="23.5" rx="4.5" fill="#5fa3f8"/><circle cx="6.8" cy="7.5" r="1.7" fill="none" stroke="#fff" stroke-width="1.4"/><circle cx="6.8" cy="16" r="1.7" fill="none" stroke="#fff" stroke-width="1.4"/><path d="M6.8 9.2V14.3M11.5 7.5H18.5M11.5 12H18.5M11.5 16.3H18.5" stroke="#fff" stroke-width="1.6" stroke-linecap="round"/></svg>
<div class="t ct" style="left:256.4px;top:642px;color:#333">项目启动任命</div>
<div class="pill" style="left:531.5px;top:624px;width:91px;background:#f2be4c">进行中</div>
<div class="hl" style="top:673.6px;width:1910px"></div>
<div class="t ct" style="left:16px;top:708.6px;color:#999;font-size:21px">PBY-149</div>
<svg style="left:250.8px;top:695.1px" width="23.5" height="23.5" viewBox="0 0 23.5 23.5"><rect width="23.5" height="23.5" rx="4.5" fill="#a6dfb1"/><path d="M6.5 12L10.5 16L17.5 8.5" fill="none" stroke="#fff" stroke-width="2.3" stroke-linecap="round" stroke-linejoin="round"/></svg>
<div class="t ct" style="left:285.8px;top:708.1px;color:#aaa;text-decoration:line-through">组建交付群和工作台</div>
<div class="pill" style="left:531.5px;top:690.1px;width:91px;background:#a9e0b3">已完成</div>
<div class="hl" style="top:739.7px;width:1910px"></div>
<div class="t ct" style="left:16px;top:774.7px;color:#999;font-size:21px">PBY-150</div>
<svg style="left:250.8px;top:761.2px" width="23.5" height="23.5" viewBox="0 0 23.5 23.5"><rect width="23.5" height="23.5" rx="4.5" fill="#a6dfb1"/><path d="M6.5 12L10.5 16L17.5 8.5" fill="none" stroke="#fff" stroke-width="2.3" stroke-linecap="round" stroke-linejoin="round"/></svg>
<div class="t ct" style="left:285.8px;top:774.2px;color:#aaa;text-decoration:line-through">编制项目章程</div>
<div class="pill" style="left:531.5px;top:756.2px;width:91px;background:#a9e0b3">已完成</div>
<div class="hl" style="top:805.8px;width:1910px"></div>
<div class="t ct" style="left:16px;top:840.8px;color:#999;font-size:21px">PBY-151</div>
<svg style="left:250.8px;top:827.3px" width="23.5" height="23.5" viewBox="0 0 23.5 23.5"><rect width="23.5" height="23.5" rx="4.5" fill="#a6dfb1"/><path d="M6.5 12L10.5 16L17.5 8.5" fill="none" stroke="#fff" stroke-width="2.3" stroke-linecap="round" stroke-linejoin="round"/></svg>
<div class="t ct" style="left:285.8px;top:840.3px;color:#aaa;text-decoration:line-through">召开项目开工会</div>
<div class="pill" style="left:531.5px;top:822.3px;width:91px;background:#a9e0b3">已完成</div>
<div class="hl" style="top:871.9px;width:1910px"></div>
<div class="t ct" style="left:16px;top:906.9px;color:#999;font-size:21px">PBY-62</div>
<svg style="left:221.4px;top:893.4px" width="23.5" height="23.5" viewBox="0 0 23.5 23.5"><rect width="23.5" height="23.5" rx="4.5" fill="#a6dfb1"/><path d="M11.75 4.5L17.5 7.8V15.7L11.75 19L6 15.7V7.8Z" fill="#fff"/><path d="M9 11.8L11 13.8L14.5 10" fill="none" stroke="#a6dfb1" stroke-width="1.7" stroke-linecap="round" stroke-linejoin="round"/></svg>
<div class="t ct" style="left:256.4px;top:906.4px;color:#aaa;text-decoration:line-through"># 完成项目启动阶段<span style="display:inline-block;text-decoration:none">...</span></div>
<div class="pill" style="left:531.5px;top:888.4px;width:91px;background:#a9e0b3">已完成</div>
<div class="hl" style="top:938px;width:1910px"></div>
<div class="t ct" style="left:16px;top:973px;color:#999;font-size:21px">PBY-8</div>
<svg style="left:166.5px;top:967px" width="17" height="10" viewBox="0 0 17 10"><path d="M1.5 1.5L8.5 8.5L15.5 1.5" fill="none" stroke="#999" stroke-width="1.5" stroke-linecap="round" stroke-linejoin="round"/></svg>
<svg style="left:192px;top:959.5px" width="23.5" height="23.5" viewBox="0 0 23.5 23.5"><rect width="23.5" height="23.5" rx="4.5" fill="#5fa3f8"/><circle cx="6.8" cy="7.5" r="1.7" fill="none" stroke="#fff" stroke-width="1.4"/><circle cx="6.8" cy="16" r="1.7" fill="none" stroke="#fff" stroke-width="1.4"/><path d="M6.8 9.2V14.3M11.5 7.5H18.5M11.5 12H18.5M11.5 16.3H18.5" stroke="#fff" stroke-width="1.6" stroke-linecap="round"/></svg>
<div class="t ct" style="left:227px;top:972.5px;color:#333">项目规划阶段</div>
<div class="pill" style="left:531.5px;top:954.5px;width:72.5px;background:#6ca9f9">打开</div>
<div class="hl" style="top:1004.1px;width:1910px"></div>
<div class="t ct" style="left:16px;top:1039.1px;color:#999;font-size:21px">PBY-9</div>
<svg style="left:197.9px;top:1028.6px" width="10" height="17" viewBox="0 0 10 17"><path d="M1.5 1.5L8.5 8.5L1.5 15.5" fill="none" stroke="#999" stroke-width="1.5" stroke-linecap="round" stroke-linejoin="round"/></svg>
<svg style="left:221.4px;top:1025.6px" width="23.5" height="23.5" viewBox="0 0 23.5 23.5"><rect width="23.5" height="23.5" rx="4.5" fill="#5fa3f8"/><circle cx="6.8" cy="7.5" r="1.7" fill="none" stroke="#fff" stroke-width="1.4"/><circle cx="6.8" cy="16" r="1.7" fill="none" stroke="#fff" stroke-width="1.4"/><path d="M6.8 9.2V14.3M11.5 7.5H18.5M11.5 12H18.5M11.5 16.3H18.5" stroke="#fff" stroke-width="1.6" stroke-linecap="round"/></svg>
<div class="t ct" style="left:256.4px;top:1038.6px;color:#333">总体设计=实施方案（...</div>
<div class="pill" style="left:531.5px;top:1020.6px;width:72.5px;background:#6ca9f9">打开</div>
<div class="vl" style="left:137.5px;top:213px;height:900px"></div>
<div class="vl" style="left:506.5px;top:213px;height:900px"></div>
<div class="a" style="left:684px;top:213px;width:30px;height:900px;background:linear-gradient(90deg,rgba(0,0,0,.075),rgba(0,0,0,.025) 40%,rgba(0,0,0,0))"></div>
<!--bars-->
<svg style="left:695px;top:294px" width="1226" height="26" viewBox="0 0 1226 26"><path d="M940 0.75H1226V15.75H940Z" fill="#d2e4fd" stroke="#6eabfb" stroke-width="1.5"/><path d="M0 0H940V16.5H8L0 24.5Z" fill="#6eabfb"/></svg>
<svg style="left:695px;top:360.1px" width="719.5" height="26" viewBox="0 0 719.5 26"><path d="M473 0.75H718.75V24L711 15.75H473Z" fill="#d2e4fd" stroke="#6eabfb" stroke-width="1.5"/><path d="M0 0H473V16.5H8L0 24.5Z" fill="#6eabfb"/></svg>
<svg style="left:1415px;top:360.1px" width="204" height="26" viewBox="0 0 204 26"><rect x="0" y="1" width="204" height="14.5" fill="#fdf3dc"/><path d="M0 1H203V22.5L198 15.5H0" fill="none" stroke="#f5cf7a" stroke-width="1.6" stroke-dasharray="9 5"/></svg>
<div class="bar" style="left:745.6px;top:426.1px;width:102.9px"></div>
<div class="num" style="left:817px;top:429.4px">1</div>
<div class="bar" style="left:1002.8px;top:492.2px;width:411.4px"></div>
<div class="num" style="left:1007px;top:495.5px">1</div>
<div class="bar" style="left:1208.5px;top:558.3px;width:360px"></div>
<svg style="left:797.5px;top:624.5px" width="873.5" height="26" viewBox="0 0 873.5 26"><path d="M0 0H873.5V24.5L865.5 16.5H8L0 24.5Z" fill="#6eabfb"/></svg>
<svg style="left:1671.5px;top:624.5px" width="254.5" height="26" viewBox="0 0 254.5 26"><rect x="0" y="1" width="254.5" height="14.5" fill="#fdf3dc"/><path d="M0 1H254.5M0 15.5H254.5" fill="none" stroke="#f5cf7a" stroke-width="1.6" stroke-dasharray="9 5"/></svg>
<div class="bar" style="left:797.1px;top:690.5px;width:102.9px"></div>
<div class="num" style="left:869px;top:693.8px">1</div>
<div class="bar" style="left:951.3px;top:756.6px;width:514.3px"></div>
<div class="num" style="left:955px;top:759.9px">1</div>
<div class="num" style="left:1434.5px;top:759.9px">1</div>
<div class="bar" style="left:1568.5px;top:822.7px;width:102.9px"></div>
<div class="num" style="left:1572px;top:826px">1</div>
<svg style="left:1311px;top:955px" width="615" height="26" viewBox="0 0 615 26"><path d="M0.75 0.75H615V16.5H9L0.75 24Z" fill="#d2e4fd" stroke="#6eabfb" stroke-width="1.5"/></svg>
<div class="bar" style="left:1311.4px;top:1021px;width:360px"><div class="a" style="right:0;top:0;width:12px;height:32px;background:#d2e4fd;border:1.5px solid #6eabfb;border-radius:0 5px 5px 0"></div></div>
<svg style="left:0;top:0" width="1910" height="1100"><path d="M848.5 442.4 L877 442.4 L877 508.5 L1002.5 508.5" fill="none" stroke="#cbcbcb" stroke-width="2.4"/><path d="M1002.5 508.5L987.5 502V515Z" fill="#c8c8c8"/></svg>
<svg style="left:0;top:0" width="1910" height="1100"><path d="M900 706.8 L929.5 706.8 L929.5 735 L921 735 L921 772.9 L951 772.9" fill="none" stroke="#cbcbcb" stroke-width="2.4"/><path d="M951 772.9L936 766.4V779.4Z" fill="#c8c8c8"/></svg>
<svg style="left:0;top:0" width="1910" height="1100"><path d="M1465 772.9 L1495 772.9 L1495 839 L1568 839" fill="none" stroke="#cbcbcb" stroke-width="2.4"/><path d="M1568 839L1553 832.5V845.5Z" fill="#c8c8c8"/></svg>
<!--float-->
<div class="fb" style="left:1611px;top:305.5px;width:64px"></div>
<div class="t ct c" style="left:1643px;top:329.5px;color:#555">今天</div>
<div class="fb" style="left:1689.5px;top:305.5px;width:73px"></div>
<div class="t ct" style="left:1703px;top:329.5px;color:#555">日</div>
<svg style="left:1733px;top:324px" width="16" height="10" viewBox="0 0 16 10"><path d="M1.5 1.5L8 8L14.5 1.5" fill="none" stroke="#888" stroke-width="1.5" stroke-linecap="round" stroke-linejoin="round"/></svg>
<div class="fb" style="left:1777.5px;top:305.5px;width:47px"></div>
<svg style="left:1789.5px;top:318px" width="24" height="21" viewBox="0 0 24 21"><path d="M9.5 2.5H1.5V18.5H9.5" fill="none" stroke="#aaa" stroke-width="1.6"/><path d="M14.5 2.5H22.5V18.5H14.5" fill="none" stroke="#bbb" stroke-width="1.5" stroke-dasharray="2 2"/><path d="M12 0V21" stroke="#aaa" stroke-width="1.6"/></svg>
<div class="fb" style="left:1838.5px;top:305.5px;width:47.5px"></div>
<svg style="left:1850px;top:316.5px" width="25" height="25" viewBox="0 0 25 25"><path d="M2.5 9V2.5H9M2.5 2.5L9.5 9.5M16 2.5H22.5V9M22.5 2.5L15.5 9.5M2.5 16V22.5H9M2.5 22.5L9.5 15.5M22.5 16V22.5H16M22.5 22.5L15.5 15.5" fill="none" stroke="#888" stroke-width="1.5" stroke-linecap="round" stroke-linejoin="round"/></svg>
</div>
<!--/CARD-->
</body></html>
